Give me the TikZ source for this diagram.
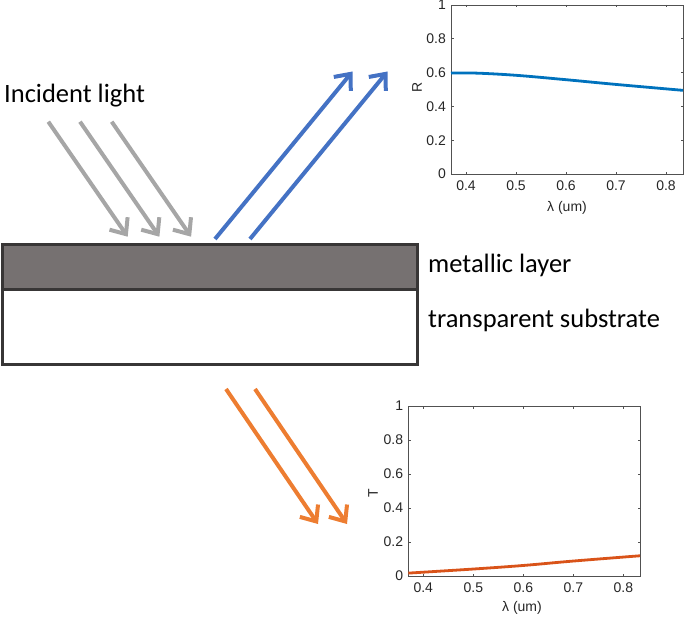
\documentclass[tikz,border=0pt]{standalone}
\usepackage{fontspec}
\setmainfont{Carlito}
\newfontfamily\plotfont{Liberation Sans}
\usetikzlibrary{arrows.meta}
\definecolor{raygray}{HTML}{A6A6A6}
\definecolor{rayblue}{HTML}{4472C4}
\definecolor{rayorange}{HTML}{ED7D31}
\definecolor{metal}{HTML}{767171}
\definecolor{edge}{HTML}{383636}
\definecolor{mblue}{HTML}{0072BD}
\definecolor{morange}{HTML}{D95319}
\definecolor{axgray}{HTML}{262626}

\begin{document}
\begin{tikzpicture}[x=1pt,y=-1pt,
ray/.style={#1,line width=4pt,-{Straight Barb[length=13pt,width=22pt]}},
lyr/.style={draw=edge,line width=3pt},
lbl/.style={font=\fontsize{26.5}{30}\selectfont,inner sep=0pt,anchor=base west},
ticklbl/.style={font=\plotfont\fontsize{14}{16}\selectfont,text=axgray,inner sep=0pt},
axbox/.style={draw=axgray!80,line width=0.8pt}]
\useasboundingbox (0,0) rectangle (685,618);

% sample: metal film on substrate
\fill[metal] (2,244) rectangle (417.5,289);
\draw[lyr] (2,244) rectangle (417.5,364);
\draw[lyr] (2,289) -- (417.5,289);
\node[lbl] (inc) at (4,102) {Incident light};
\node[lbl] (met) at (428,272) {metallic layer};
\node[lbl] (sub) at (428,327) {transparent substrate};

% light rays
\foreach \i/\x in {1/48.3,2/80,3/111.7} {
   \coordinate (in\i) at (\x,121.7);
   \coordinate (hit\i) at (\x+79.4,236.7);
   \draw[ray=raygray] (in\i) -- (hit\i);
}
\foreach \i/\x in {1/215,2/250} {
   \coordinate (rs\i) at (\x,239);
   \coordinate (re\i) at (\x+137.5,71.5);
   \draw[ray=rayblue] (rs\i) -- (re\i);
}
\foreach \i/\x in {1/226,2/255} {
   \coordinate (ts\i) at (\x,389);
   \coordinate (te\i) at (\x+92,524);
   \draw[ray=rayorange] (ts\i) -- (te\i);
}

% reflectance
\begin{scope}[shift={(266,174)},x=500pt,y=169pt]
\draw[axbox] (0.37,0) rectangle (0.834,1);
\foreach \t [count=\i] in {0.4,0.5,0.6,0.7,0.8} {
   \draw[axbox] (\t,0) -- ++(0,2.5pt) (\t,1) -- ++(0,-2.5pt);
   \node[ticklbl,anchor=north] (rx\i) at ([yshift=-7pt]\t,0) {\t};
}
\foreach \v [count=\i] in {0,0.2,0.4,0.6,0.8,1} {
   \draw[axbox] (0.37,\v) -- ++(2.5pt,0) (0.834,\v) -- ++(-2.5pt,0);
   \node[ticklbl,anchor=east] (ry\i) at ([xshift=-5pt]0.37,\v) {\v};
}
\draw[mblue,line width=2.8pt] plot[smooth,tension=0.6] coordinates
   {(0.37,0.597) (0.42,0.597) (0.5,0.584) (0.6,0.558) (0.7,0.53) (0.834,0.495)};
\end{scope}
\node[ticklbl] (rxl) at (567,208) {λ (um)};
\node[ticklbl,rotate=90] (ryl) at (417,87) {R};

% transmittance
\begin{scope}[shift={(223.3,576)},x=500pt,y=170pt]
\draw[axbox] (0.37,0) rectangle (0.8334,1);
\foreach \t [count=\i] in {0.4,0.5,0.6,0.7,0.8} {
   \draw[axbox] (\t,0) -- ++(0,2.5pt) (\t,1) -- ++(0,-2.5pt);
   \node[ticklbl,anchor=north] (tx\i) at ([yshift=-7pt]\t,0) {\t};
}
\foreach \v [count=\i] in {0,0.2,0.4,0.6,0.8,1} {
   \draw[axbox] (0.37,\v) -- ++(2.5pt,0) (0.8334,\v) -- ++(-2.5pt,0);
   \node[ticklbl,anchor=east] (ty\i) at ([xshift=-5pt]0.37,\v) {\v};
}
\draw[morange,line width=2.8pt] plot[smooth,tension=0.6] coordinates
   {(0.37,0.017) (0.5,0.041) (0.6,0.062) (0.7,0.088) (0.8334,0.119)};
\end{scope}
\node[ticklbl] (txl) at (522,608) {λ (um)};
\node[ticklbl,rotate=90] (tyl) at (373,493) {T};
\end{tikzpicture}
\end{document}
